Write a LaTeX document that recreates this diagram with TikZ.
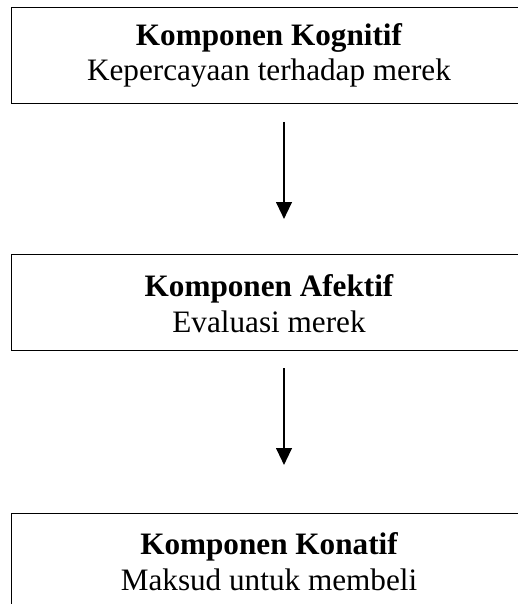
\documentclass[tikz,border=0pt]{standalone}
\usepackage{fontspec}
\setmainfont{Liberation Serif}
\usetikzlibrary{arrows.meta}
\begin{document}
\begin{tikzpicture}[x=1pt,y=1pt,
  boxnode/.style={draw=black,line width=1pt,minimum width=516pt,inner sep=0pt},
  titletxt/.style={anchor=base,inner sep=0pt,font=\fontsize{31.2}{36}\selectfont\bfseries},
  subtxt/.style={anchor=base,inner sep=0pt,font=\fontsize{31.2}{36}\selectfont},
  arr/.style={line width=2.3pt,-{Triangle[width=15.6pt,length=17pt]}}]
\useasboundingbox (0,0) rectangle (518,-604);
\clip (0,0) rectangle (518,-604);
\fill[white] (0,0) rectangle (518,-604);
% boxes
\node[boxnode,minimum height=96pt] (b1) at (269,-56) {};
\node[boxnode,minimum height=96pt] (b2) at (269,-302) {};
\node[boxnode,minimum height=100pt] (b3) at (269,-563) {};
% texts
\node[titletxt] (b1t) at (269,-46) {Komponen Kognitif};
\node[subtxt] (b1s) at (269,-81) {Kepercayaan terhadap merek};
\node[titletxt] (b2t) at (269,-296) {Komponen Afektif};
\node[subtxt] (b2s) at (269,-332) {Evaluasi merek};
\node[titletxt] (b3t) at (269,-554) {Komponen Konatif};
\node[subtxt] (b3s) at (269,-590) {Maksud untuk membeli};
% arrows
\coordinate (a1s) at (284,-122);
\coordinate (a1e) at (284,-219);
\coordinate (a2s) at (284,-368);
\coordinate (a2e) at (284,-465);
\draw[arr] (a1s) -- (a1e);
\draw[arr] (a2s) -- (a2e);
\end{tikzpicture}
\end{document}
